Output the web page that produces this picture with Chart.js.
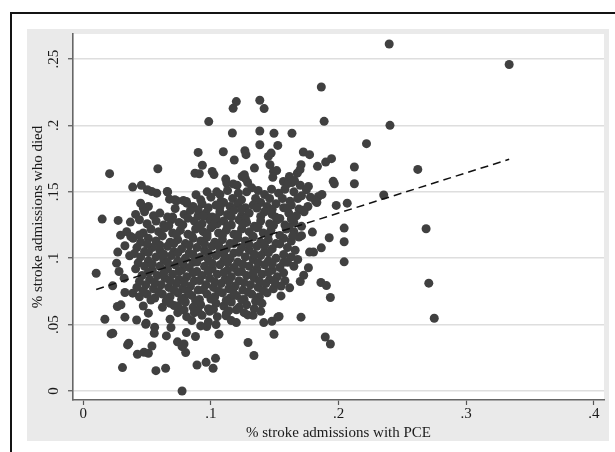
<!DOCTYPE html>
<html><head><meta charset="utf-8">
<script src="https://cdn.jsdelivr.net/npm/chart.js@4/dist/chart.umd.min.js"></script>
<style>html,body{margin:0;padding:0;background:#fff}canvas{display:block}</style>
</head><body>
<canvas id="c" width="615" height="452"></canvas>
<script>
const xTickValues=[0,0.1,0.2,0.3,0.4];
const xTickLabels=['0','.1','.2','.3','.4'];
const yTickValues=[0,0.05,0.1,0.15,0.2,0.25];
const yTickLabels=['0','.05','.1','.15','.2','.25'];
const xTitle='% stroke admissions with PCE';
const yTitle='% stroke admissions who died';
const fitLine=[[0.0101,0.0765],[0.3337,0.1745]];

const outlierPoints=[
[0.2397,0.2614],[0.3337,0.2459],[0.1865,0.229],[0.1887,0.2031],[0.2403,0.2001],[0.0983,0.2029],[0.1174,0.2129],[0.1199,0.218],[0.1383,0.219],[0.1417,0.2127],
[0.1168,0.1943],[0.1383,0.1958],[0.1494,0.1941],[0.1635,0.1941],[0.1383,0.1855],[0.1524,0.185],[0.2219,0.1863],[0.09,0.1797],[0.1097,0.1802],[0.1183,0.174],
[0.1266,0.181],[0.1275,0.178],[0.145,0.1767],[0.1472,0.1792],[0.1724,0.18],[0.1773,0.178],[0.1835,0.1692],[0.1899,0.1724],[0.1945,0.175],[0.1706,0.1704],
[0.2124,0.1687],[0.2124,0.1561],[0.2068,0.1415],[0.1982,0.1398],[0.1958,0.1579],[0.1967,0.1561],[0.2354,0.1476],[0.2621,0.1669],[0.2686,0.1222],[0.2707,0.0812],
[0.275,0.0548],[0.2044,0.1227],[0.2044,0.1124],[0.2044,0.0973],[0.1927,0.1154],[0.1795,0.1197],[0.1804,0.1046],[0.1773,0.1046],[0.1865,0.1078],[0.1862,0.0817],
[0.1905,0.0794],[0.1936,0.0704],[0.1896,0.0407],[0.1936,0.0354],[0.1706,0.0556],[0.1764,0.0928],[0.1727,0.0872],[0.17,0.0825],[0.1617,0.0777],[0.1549,0.0716],
[0.1524,0.0556],[0.1494,0.0427],[0.1478,0.0525],[0.1414,0.0515],[0.1291,0.0365],[0.1337,0.0267],[0.1288,0.0573],[0.1199,0.0515],[0.1119,0.0566],[0.1036,0.0246],
[0.1017,0.0171],[0.0962,0.0216],[0.0891,0.0196],[0.0879,0.041],[0.0802,0.0289],[0.0774,0.0334],[0.0738,0.037],[0.0774,0.0],[0.0808,0.044],[0.0645,0.0171],
[0.0569,0.0153],[0.0651,0.0415],[0.0559,0.048],[0.0556,0.0435],[0.0476,0.0292],[0.051,0.0284],[0.0538,0.0339],[0.0424,0.0277],[0.0307,0.0176],[0.0347,0.0347],
[0.0356,0.036],[0.0492,0.051],[0.051,0.0586],[0.0418,0.0535],[0.0326,0.0556],[0.0218,0.043],[0.0231,0.0435],[0.0169,0.054],[0.0267,0.0636],[0.0295,0.0649],
[0.023,0.0792],[0.0101,0.0887],[0.0148,0.1295],[0.0206,0.1637],[0.0584,0.1674],[0.0387,0.1536],[0.0455,0.1549],[0.0661,0.1498],[0.0273,0.1285],[0.027,0.1046],
[0.0261,0.0963],[0.028,0.09],[0.032,0.085],[0.0369,0.1272],[0.0292,0.1174],[0.0372,0.1164],[0.0363,0.1018],[0.0326,0.1094],[0.0326,0.0742],[0.0387,0.0737],
[0.0789,0.0354],[0.1063,0.0427],[0.0967,0.0485],[0.0687,0.0478],[0.068,0.054],[0.0711,0.0644],[0.1534,0.0561],[0.0489,0.0503]
];

const upperPoints=[
[0.0875,0.164],[0.0909,0.1636],[0.0933,0.170],[0.101,0.1654],[0.1024,0.163],[0.1116,0.1596],[0.1124,0.1566],[0.1175,0.156],[0.1205,0.155],[0.1245,0.1616],
[0.127,0.160],[0.1288,0.157],[0.1262,0.1629],[0.1341,0.1679],[0.1463,0.1704],[0.149,0.1654],[0.1515,0.166],[0.1485,0.161],[0.1615,0.1616],[0.1677,0.1641],
[0.1698,0.1667],[0.1568,0.1578],[0.160,0.156],[0.1635,0.157],[0.1655,0.1585],[0.170,0.155],[0.1748,0.1516],[0.1764,0.1541],[0.1842,0.1465],[0.187,0.148],
[0.0502,0.1516],[0.0536,0.1503],[0.0575,0.149],[0.0658,0.1503],[0.0883,0.1478],[0.0718,0.144],[0.0784,0.1435],[0.081,0.1415],[0.0449,0.1415],[0.047,0.1378],
[0.0676,0.1445],[0.0731,0.1433],[0.097,0.150],[0.1045,0.150],[0.1071,0.148],[0.113,0.151],[0.1215,0.149],[0.128,0.150],[0.132,0.153],[0.137,0.151],
[0.142,0.148],[0.1475,0.152],[0.153,0.149],[0.158,0.152],[0.165,0.150],[0.171,0.147],[0.092,0.144],[0.1,0.146],[0.108,0.143],[0.117,0.145],
[0.124,0.144],[0.135,0.145],[0.146,0.145],[0.156,0.145],[0.162,0.143],[0.168,0.145],[0.178,0.146],[0.182,0.143]
];

const corePoints=[
[0.086,0.139],[0.093,0.141],[0.098,0.138],[0.104,0.140],[0.110,0.142],[0.115,0.139],[0.121,0.141],[0.127,0.138],[0.133,0.140],[0.139,0.142],[0.144,0.139],[0.151,0.141],[0.157,0.138],[0.163,0.140],[0.169,0.137],[0.176,0.139],[0.183,0.142],[0.051,0.139],[0.0808,0.1428],
[0.041,0.133],[0.048,0.135],[0.055,0.132],[0.060,0.134],[0.066,0.131],[0.079,0.133],[0.084,0.136],[0.090,0.132],[0.096,0.134],[0.101,0.131],[0.107,0.135],[0.113,0.133],[0.118,0.136],[0.124,0.132],[0.130,0.134],[0.142,0.135],[0.148,0.133],[0.154,0.130],[0.161,0.134],[0.167,0.132],[0.173,0.135],
[0.044,0.129],[0.050,0.126],[0.057,0.128],[0.063,0.125],[0.069,0.129],[0.075,0.127],[0.087,0.128],[0.093,0.126],[0.099,0.129],[0.105,0.126],[0.110,0.128],[0.116,0.125],[0.122,0.129],[0.128,0.127],[0.134,0.124],[0.139,0.128],[0.146,0.126],[0.152,0.129],[0.158,0.125],[0.165,0.127],[0.171,0.124],
[0.034,0.120],[0.047,0.119],[0.053,0.122],[0.059,0.120],[0.064,0.123],[0.070,0.119],[0.076,0.121],[0.082,0.118],[0.088,0.122],[0.094,0.120],[0.100,0.123],[0.106,0.119],[0.112,0.121],[0.118,0.118],[0.124,0.122],[0.130,0.120],[0.136,0.123],[0.141,0.119],[0.147,0.121],[0.159,0.122],[0.165,0.120],[0.171,0.117],
[0.039,0.115],[0.045,0.112],[0.051,0.115],[0.057,0.113],[0.068,0.112],[0.074,0.114],[0.080,0.111],[0.086,0.115],[0.092,0.113],[0.097,0.116],[0.103,0.112],[0.109,0.114],[0.115,0.111],[0.121,0.115],[0.127,0.113],[0.133,0.116],[0.139,0.112],[0.145,0.114],[0.151,0.111],[0.157,0.115],[0.163,0.113],[0.169,0.116],
[0.042,0.108],[0.048,0.105],[0.054,0.108],[0.060,0.106],[0.066,0.109],[0.071,0.105],[0.077,0.107],[0.083,0.104],[0.089,0.108],[0.095,0.106],[0.101,0.109],[0.107,0.105],[0.112,0.107],[0.118,0.104],[0.124,0.108],[0.130,0.106],[0.136,0.109],[0.142,0.105],[0.148,0.107],[0.160,0.108],[0.166,0.106],
[0.045,0.101],[0.051,0.098],[0.057,0.101],[0.063,0.099],[0.069,0.102],[0.074,0.098],[0.080,0.100],[0.086,0.097],[0.092,0.101],[0.098,0.099],[0.104,0.102],[0.110,0.098],[0.115,0.100],[0.121,0.097],[0.127,0.101],[0.133,0.099],[0.139,0.102],[0.145,0.098],[0.151,0.100],[0.157,0.097],[0.163,0.101],[0.168,0.099],
[0.041,0.092],[0.048,0.094],[0.054,0.091],[0.060,0.094],[0.066,0.092],[0.072,0.095],[0.077,0.091],[0.083,0.093],[0.089,0.090],[0.095,0.094],[0.101,0.092],[0.107,0.095],[0.113,0.091],[0.118,0.093],[0.124,0.090],[0.130,0.094],[0.136,0.092],[0.142,0.095],[0.148,0.091],[0.154,0.093],[0.165,0.094],
[0.046,0.087],[0.052,0.084],[0.058,0.087],[0.064,0.085],[0.070,0.088],[0.075,0.084],[0.081,0.086],[0.087,0.083],[0.093,0.087],[0.099,0.085],[0.105,0.088],[0.111,0.084],[0.116,0.086],[0.122,0.083],[0.128,0.087],[0.134,0.085],[0.140,0.088],[0.146,0.084],[0.152,0.086],[0.158,0.083],
[0.042,0.078],[0.049,0.080],[0.055,0.077],[0.061,0.080],[0.067,0.078],[0.073,0.081],[0.078,0.077],[0.084,0.079],[0.090,0.076],[0.096,0.080],[0.102,0.078],[0.108,0.081],[0.114,0.077],[0.119,0.079],[0.125,0.076],[0.131,0.080],[0.137,0.078],[0.143,0.081],[0.149,0.077],[0.155,0.079],
[0.044,0.071],[0.050,0.073],[0.056,0.070],[0.062,0.073],[0.068,0.071],[0.074,0.074],[0.079,0.070],[0.085,0.072],[0.091,0.069],[0.097,0.073],[0.103,0.071],[0.109,0.074],[0.115,0.070],[0.120,0.072],[0.126,0.069],[0.132,0.073],[0.138,0.071],[0.144,0.074],
[0.047,0.064],[0.062,0.063],[0.068,0.066],[0.074,0.064],[0.080,0.067],[0.086,0.063],[0.092,0.065],[0.098,0.062],[0.104,0.066],[0.110,0.064],[0.116,0.067],[0.122,0.063],[0.128,0.065],[0.134,0.062],[0.140,0.066],
[0.074,0.059],[0.081,0.056],[0.087,0.059],[0.093,0.057],[0.099,0.060],[0.105,0.056],[0.112,0.058],[0.126,0.059],[0.133,0.057],[0.139,0.060],
[0.085,0.053],[0.092,0.049],[0.098,0.052],[0.104,0.050],[0.116,0.053]
];

const coreFillPoints=[
[0.072,0.1375],[0.090,0.1365],[0.107,0.1382],[0.124,0.1370],[0.136,0.1378],[0.148,0.1368],[0.160,0.1380],[0.172,0.1362],
[0.070,0.1310],[0.082,0.1302],[0.094,0.1318],[0.104,0.1305],[0.116,0.1312],[0.127,0.1300],[0.139,0.1315],[0.151,0.1308],[0.163,0.1296],
[0.067,0.1245],[0.078,0.1252],[0.090,0.1238],[0.102,0.1250],[0.113,0.1242],[0.125,0.1255],[0.137,0.1240],[0.149,0.1248],[0.161,0.1236],
[0.044,0.1175],[0.062,0.1168],[0.073,0.1180],[0.085,0.1170],[0.097,0.1182],[0.109,0.1172],[0.121,0.1178],[0.133,0.1166],[0.145,0.1180],[0.154,0.1172],[0.164,0.1165],
[0.050,0.1105],[0.060,0.1098],[0.071,0.1112],[0.083,0.1100],[0.095,0.1108],[0.106,0.1096],[0.118,0.1110],[0.130,0.1102],[0.142,0.1095],[0.154,0.1108],
[0.040,0.1035],[0.051,0.1042],[0.063,0.1030],[0.074,0.1040],[0.086,0.1028],[0.098,0.1038],[0.110,0.1032],[0.122,0.1045],[0.134,0.1030],[0.145,0.1040],[0.157,0.1028],
[0.043,0.0965],[0.054,0.0958],[0.066,0.0970],[0.078,0.0960],[0.089,0.0972],[0.101,0.0962],[0.113,0.0968],[0.125,0.0955],[0.137,0.0966],[0.148,0.0958],[0.160,0.0970],
[0.051,0.0895],[0.063,0.0888],[0.075,0.0900],[0.086,0.0890],[0.098,0.0902],[0.110,0.0892],[0.121,0.0898],[0.133,0.0886],[0.145,0.0896],[0.157,0.0890],
[0.044,0.0825],[0.056,0.0818],[0.068,0.0830],[0.079,0.0820],[0.091,0.0832],[0.103,0.0822],[0.114,0.0828],[0.126,0.0816],[0.138,0.0826],[0.150,0.0820],
[0.047,0.0755],[0.059,0.0748],[0.071,0.0760],[0.082,0.0750],[0.094,0.0762],[0.106,0.0752],[0.117,0.0758],[0.129,0.0746],[0.141,0.0756],
[0.053,0.0685],[0.065,0.0678],[0.077,0.0690],[0.088,0.0680],[0.100,0.0692],[0.112,0.0682],[0.124,0.0688],[0.135,0.0676],
[0.079,0.0610],[0.090,0.0602],[0.102,0.0615],[0.114,0.0605],[0.120,0.0612]
];

const pointColor='#404040';
const allPoints=outlierPoints.concat(upperPoints,corePoints,coreFillPoints).map(p=>({x:p[0],y:p[1]}));

const framePlugin={
  id:'frame',
  beforeDraw(chart){
    const c=chart.ctx, a=chart.chartArea;
    c.save();
    c.fillStyle='#ffffff';c.fillRect(0,0,chart.width,chart.height);
    c.fillStyle='#eaeaea';c.fillRect(27,29,582,412);
    c.fillStyle='#ffffff';c.fillRect(a.left,a.top,a.right-a.left,a.bottom-a.top);
    c.fillStyle='#141414';
    c.fillRect(10,12,chart.width-10,2);
    c.fillRect(10,12,2,chart.height-12);
    c.restore();
  },
  afterDraw(chart){
    const c=chart.ctx, ys=chart.scales.y, a=chart.chartArea;
    c.save();
    c.fillStyle='#1a1a1a';
    c.font='15px "Liberation Serif", "Times New Roman", serif';
    c.textAlign='center';c.textBaseline='middle';
    yTickValues.forEach((v,i)=>{
      const py=ys.getPixelForValue(v);
      c.save();c.translate(54,py);c.rotate(-Math.PI/2);c.fillText(yTickLabels[i],0,0);c.restore();
    });
    c.save();c.translate(38.5,(a.top+a.bottom)/2);c.rotate(-Math.PI/2);c.fillText(yTitle,0,0);c.restore();
    c.restore();
  }
};

new Chart(document.getElementById('c'),{
  data:{datasets:[
    {type:'line',data:fitLine.map(p=>({x:p[0],y:p[1]})),borderColor:'#111',borderWidth:1.5,borderDash:[8,5],pointRadius:0,fill:false,tension:0},
    {type:'scatter',data:allPoints,backgroundColor:pointColor,borderWidth:0,pointRadius:4.5,pointHoverRadius:4.5}
  ]},
  options:{
    responsive:false,animation:false,
    events:[],
    layout:{padding:{left:27,top:34,right:11,bottom:8}},
    plugins:{legend:{display:false},tooltip:{enabled:false}},
    scales:{
      x:{type:'linear',position:'bottom',min:-0.00807,max:0.408,
        afterBuildTicks:s=>{s.ticks=xTickValues.map(v=>({value:v}));},
        afterFit:s=>{s.height=44;},
        grid:{display:true,drawOnChartArea:false,drawTicks:true,tickLength:5,tickColor:'#555',tickWidth:1.2},
        border:{display:true,color:'#666',width:1.6},
        ticks:{padding:0,color:'#1a1a1a',font:{family:'"Liberation Serif", serif',size:15},maxRotation:0,
          callback:(v)=>{const i=xTickValues.findIndex(t=>Math.abs(t-v)<1e-9);return i>=0?xTickLabels[i]:'';}},
        title:{display:true,text:xTitle,color:'#1a1a1a',font:{family:'"Liberation Serif", serif',size:15},padding:{top:0,bottom:2}}
      },
      y:{type:'linear',position:'left',min:-0.00679,max:0.2689,
        afterBuildTicks:s=>{s.ticks=yTickValues.map(v=>({value:v}));},
        afterFit:s=>{s.width=46;},
        grid:{display:true,drawOnChartArea:true,drawTicks:true,tickLength:5,color:'#dedede',lineWidth:1.5,tickColor:'#555',tickWidth:1.2},
        border:{display:true,color:'#666',width:1.6},
        ticks:{display:false}
      }
    }
  },
  plugins:[framePlugin]
});
</script>
</body></html>
